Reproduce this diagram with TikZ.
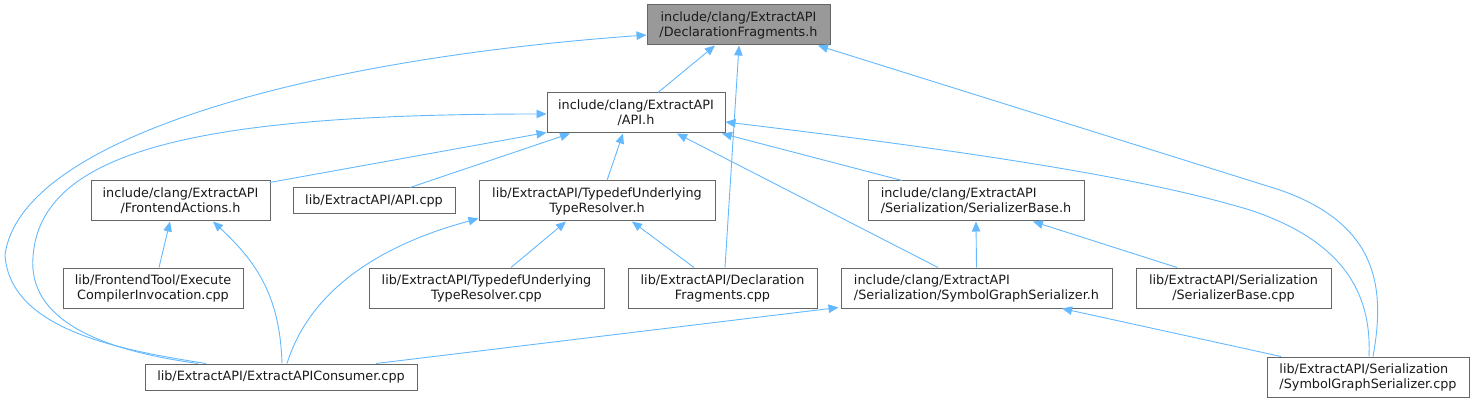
\documentclass[tikz,border=0pt]{standalone}
\usepackage{fontspec}
\setmainfont{DejaVu Sans}
\usetikzlibrary{arrows.meta}
\definecolor{edgec}{HTML}{63B8FF}
\definecolor{boxc}{HTML}{666666}
\definecolor{grayfill}{HTML}{999999}
\definecolor{txt}{HTML}{1A1A1A}
\begin{document}
\begin{tikzpicture}[x=1pt,y=-1pt,
  box/.style={draw=boxc, line width=1pt, fill=white, inner sep=0pt, minimum height=40pt,
    font=\fontsize{12.8}{15}\selectfont, text=txt, align=center},
  lbox/.style={box, align=left},
  sbox/.style={box, minimum height=26pt},
  edge/.style={draw=edgec, line width=0.9pt, {Triangle[length=10pt,width=8.5pt]}-}]
\useasboundingbox (0,0) rectangle (1474,403);
% nodes
\node[box, fill=grayfill, minimum width=183pt] (df) at (738.5,25) {include/clang/ExtractAPI\\/DeclarationFragments.h};
\node[box, minimum width=178pt] (api) at (636,113) {include/clang/ExtractAPI\\/API.h};
\node[box, minimum width=179pt] (fa) at (180.5,201) {include/clang/ExtractAPI\\/FrontendActions.h};
\node[sbox, minimum width=162pt] (apicpp) at (374,201) {lib/ExtractAPI/API.cpp};
\node[box, minimum width=236pt] (tdh) at (597,201) {lib/ExtractAPI/TypedefUnderlying\\TypeResolver.h};
\node[lbox, minimum width=216pt] (sbh) at (976,201) {include/clang/ExtractAPI\\/Serialization/SerializerBase.h};
\node[box, minimum width=180pt] (eci) at (153,288) {lib/FrontendTool/Execute\\CompilerInvocation.cpp};
\node[box, minimum width=235pt] (tdcpp) at (486.5,288) {lib/ExtractAPI/TypedefUnderlying\\TypeResolver.cpp};
\node[box, minimum width=189pt] (dfcpp) at (722.5,288) {lib/ExtractAPI/Declaration\\Fragments.cpp};
\node[lbox, minimum width=271pt] (sgsh) at (976.5,288) {include/clang/ExtractAPI\\/Serialization/SymbolGraphSerializer.h};
\node[box, minimum width=195pt] (sbcpp) at (1233.5,288) {lib/ExtractAPI/Serialization\\/SerializerBase.cpp};
\node[sbox, minimum width=272pt] (eac) at (281,377) {lib/ExtractAPI/ExtractAPIConsumer.cpp};
\node[lbox, minimum width=202pt] (sgscpp) at (1368,377) {lib/ExtractAPI/Serialization\\/SymbolGraphSerializer.cpp};
% edges (drawn from parent to child, arrow at parent)
\draw[edge] ([xshift=-23.5pt]df.south) -- ([xshift=22pt]api.north);
\draw[edge] ([yshift=-10pt]df.west) .. controls (300,60) and (20,140) .. (5,255)
   .. controls (10,330) and (120,350) .. ([xshift=-75pt]eac.north);
\draw[edge] ([xshift=0.5pt]df.south) -- ([xshift=2.5pt]dfcpp.north);
\draw[edge] ([xshift=79.5pt]df.south) -- (1280,190) .. controls (1380,225) and (1385,290) .. ([xshift=5pt]sgscpp.north);
\draw[edge] ([yshift=1pt]api.south west) -- ([xshift=-1pt,yshift=-2pt]fa.north east);
\draw[edge] ([xshift=-66pt]api.south) -- ([xshift=36pt]apicpp.north);
\draw[edge] ([xshift=-13pt]api.south) -- ([xshift=10pt]tdh.north);
\draw[edge] ([xshift=41pt]api.south) -- ([xshift=-38.5pt]sgsh.north);
\draw[edge] ([xshift=86pt]api.south) -- ([xshift=-74pt]sbh.north);
\draw[edge] ([yshift=-9pt]api.east) .. controls (1000,155) and (1150,180) .. (1250,210)
   .. controls (1340,240) and (1372,290) .. ([xshift=1pt]sgscpp.north);
\draw[edge] ([yshift=-1pt]api.west) .. controls (200,114) and (40,150) .. (33,257)
   .. controls (28,320) and (100,350) .. ([xshift=-83pt]eac.north);
\draw[edge] ([xshift=-10.5pt]fa.south) -- ([xshift=6pt]eci.north);
\draw[edge] ([xshift=32.5pt]fa.south) .. controls (260,265) and (280,300) .. ([xshift=1pt]eac.north);
\draw[edge] ([yshift=3pt]tdh.south west) .. controls (380,245) and (310,290) .. ([xshift=6pt]eac.north);
\draw[edge] ([xshift=-31pt]tdh.south) -- ([xshift=24.5pt]tdcpp.north);
\draw[edge] ([xshift=35pt]tdh.south) -- ([xshift=-28.5pt]dfcpp.north);
\draw[edge] (sbh.south) -- (sgsh.north);
\draw[edge] ([xshift=57pt]sbh.south) -- ([xshift=-56.5pt]sbcpp.north);
\draw[edge] ([xshift=-2pt,yshift=1pt]sgsh.south west) -- ([xshift=95pt]eac.north);
\draw[edge] ([xshift=85.5pt]sgsh.south) -- ([xshift=-87pt]sgscpp.north);
\end{tikzpicture}
\end{document}
